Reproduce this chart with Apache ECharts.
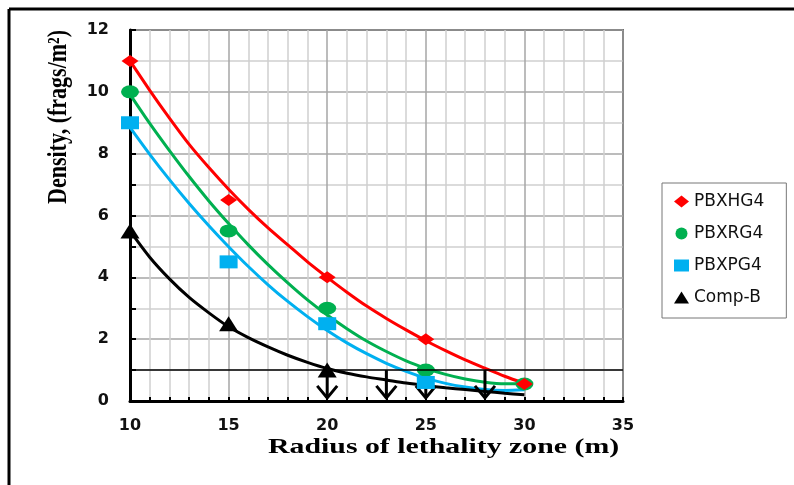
<!DOCTYPE html>
<html>
<head>
<meta charset="utf-8">
<script src="https://cdn.jsdelivr.net/npm/echarts@6/dist/echarts.min.js"></script>
<style>
html, body { margin: 0; padding: 0; background: #fff; }
#main { width: 794px; height: 485px; }
</style>
</head>
<body>
<div id="main"></div>
<script>
// measured points
let xPts = [10, 15, 20, 25, 30];
let hgPts = [11, 6.5, 4, 2, 0.55];
let rgPts = [10, 5.5, 3, 1, 0.55];
let pgPts = [9, 4.5, 2.5, 0.6];
let compX = [10, 15, 20];
let compPts = [5.5, 2.5, 1];

// trend lines, one value per metre
let fitX = [10, 11, 12, 13, 14, 15, 16, 17, 18, 19, 20, 21, 22, 23, 24, 25, 26, 27, 28, 29, 30];
let hgFit = [11.0, 10.05, 9.15, 8.3, 7.55, 6.85, 6.2, 5.6, 5.05, 4.5, 4.0, 3.52, 3.07, 2.67, 2.3, 1.95, 1.63, 1.33, 1.06, 0.8, 0.57];
let rgFit = [9.92, 8.98, 8.1, 7.26, 6.47, 5.74, 5.05, 4.41, 3.82, 3.27, 2.78, 2.34, 1.94, 1.6, 1.3, 1.06, 0.86, 0.71, 0.61, 0.56, 0.56];
let pgFit = [8.85, 7.98, 7.16, 6.39, 5.67, 4.99, 4.35, 3.76, 3.22, 2.73, 2.28, 1.88, 1.53, 1.22, 0.96, 0.74, 0.57, 0.45, 0.37, 0.34, 0.36];
let compFit = [5.5, 4.65, 3.95, 3.35, 2.85, 2.4, 2.05, 1.75, 1.48, 1.25, 1.05, 0.9, 0.78, 0.68, 0.58, 0.5, 0.43, 0.37, 0.31, 0.25, 0.2];

// "less than" arrows
let arrowX = [20, 23, 25, 28];
let arrowTop = 1;
let arrowTip = 0.1;

let xTicks = [10, 15, 20, 25, 30, 35];
let yTicks = [0, 2, 4, 6, 8, 10, 12];

function pairs(xs, ys) {
    return ys.map(function (v, i) { return [xs[i], v]; });
}

function fitLine(name, xs, ys, color) {
    return {
        name: name,
        type: 'line',
        data: pairs(xs, ys),
        smooth: 0.3,
        showSymbol: false,
        silent: true,
        lineStyle: { color: color, width: 3 },
        z: 2
    };
}

function points(name, xs, ys, symbol, size, color) {
    return {
        name: name,
        type: 'scatter',
        data: pairs(xs, ys),
        symbol: symbol,
        symbolSize: size,
        itemStyle: { color: color, opacity: 1 },
        z: 4
    };
}

let myChart = echarts.init(document.getElementById('main'));

let option = {
    animation: false,
    backgroundColor: '#fff',
    grid: {
        left: 130, right: 171, top: 30, bottom: 84,
        show: true, borderColor: '#000', borderWidth: 1.5
    },
    legend: {
        orient: 'vertical',
        left: 662, top: 183,
        padding: [9, 22, 11, 12],
        itemGap: 13,
        itemWidth: 15, itemHeight: 12,
        borderColor: '#777', borderWidth: 1,
        textStyle: { fontFamily: 'DejaVu Sans', fontSize: 17, lineHeight: 19, color: '#111' },
        data: ['PBXHG4', 'PBXRG4', 'PBXPG4', 'Comp-B']
    },
    xAxis: {
        type: 'value',
        min: xTicks[0], max: xTicks[xTicks.length - 1], interval: 5,
        axisLine: { onZero: false, lineStyle: { color: '#000', width: 3 } },
        axisTick: { show: true, inside: true, length: 4, lineStyle: { color: '#000', width: 2 } },
        minorTick: { show: true, splitNumber: 5, length: 4, lineStyle: { color: '#000', width: 2 } },
        axisLabel: { margin: 17, color: '#111', fontFamily: 'DejaVu Sans', fontWeight: 'bold', fontSize: 16 },
        splitLine: { show: true, lineStyle: { color: '#a6a6a6', width: 1.5 } },
        minorSplitLine: { show: true, lineStyle: { color: '#cfcfcf', width: 1.5 } }
    },
    yAxis: {
        type: 'value',
        min: yTicks[0], max: yTicks[yTicks.length - 1], interval: 2,
        axisLine: { show: true, lineStyle: { color: '#000', width: 3 } },
        axisTick: { show: true, inside: true, length: 6, lineStyle: { color: '#000', width: 2 } },
        minorTick: { show: true, splitNumber: 2, length: 6, lineStyle: { color: '#000', width: 2 } },
        axisLabel: { margin: 21, color: '#111', fontFamily: 'DejaVu Sans', fontWeight: 'bold', fontSize: 16 },
        splitLine: { show: true, lineStyle: { color: '#a6a6a6', width: 1.5 } },
        minorSplitLine: { show: true, lineStyle: { color: '#cfcfcf', width: 1.5 } }
    },
    graphic: [
        // outer frame (left and top edges visible)
        { type: 'line', shape: { x1: 9, y1: 9, x2: 9, y2: 485 }, style: { stroke: '#000', lineWidth: 3 } },
        { type: 'line', shape: { x1: 9, y1: 9, x2: 794, y2: 9 }, style: { stroke: '#000', lineWidth: 3 } },
        {
            type: 'text', x: 268, y: 448, scaleX: 1.42,
            style: { text: 'Radius of lethality zone (m)', x: 0, y: 0, align: 'left', verticalAlign: 'middle',
                font: 'bold 21px "Liberation Serif"', fill: '#000' }
        },
        {
            type: 'text', x: 59, y: 117, rotation: Math.PI / 2, scaleY: 1.2,
            style: { text: 'Density, (frags/m²)', x: 0, y: 0, align: 'center', verticalAlign: 'middle',
                font: 'bold 22px "Liberation Serif"', fill: '#000' }
        }
    ],
    series: [
        fitLine('fitHG', fitX, hgFit, '#ff0000'),
        fitLine('fitRG', fitX, rgFit, '#00b050'),
        fitLine('fitPG', fitX, pgFit, '#00b0f0'),
        fitLine('fitComp', fitX, compFit, '#000000'),
        {
            name: 'arrows',
            type: 'custom',
            data: arrowX.map(function (x) { return [x, arrowTop, arrowTip]; }),
            renderItem: function (params, api) {
                let top = api.coord([api.value(0), api.value(1)]);
                let bot = api.coord([api.value(0), api.value(2)]);
                return {
                    type: 'group',
                    children: [
                        { type: 'line', shape: { x1: top[0], y1: top[1], x2: bot[0], y2: bot[1] }, style: { stroke: '#000', lineWidth: 3 } },
                        { type: 'polyline', shape: { points: [[bot[0] - 10, bot[1] - 12], [bot[0], bot[1]], [bot[0] + 10, bot[1] - 12]] }, style: { stroke: '#000', lineWidth: 3, fill: null } }
                    ]
                };
            },
            markLine: {
                silent: true,
                symbol: 'none',
                label: { show: false },
                lineStyle: { color: '#000', width: 1.5, type: 'solid' },
                data: [{ yAxis: 1 }]
            },
            z: 3
        },
        points('PBXRG4', xPts, rgPts, 'circle', [18, 13], '#00b050'),
        points('PBXPG4', xPts, pgPts, 'rect', [18, 13], '#00b0f0'),
        points('PBXHG4', xPts, hgPts, 'diamond', [17, 12], '#ff0000'),
        points('Comp-B', compX, compPts, 'triangle', [19, 15], '#000000')
    ]
};

myChart.setOption(option);
</script>
</body>
</html>
